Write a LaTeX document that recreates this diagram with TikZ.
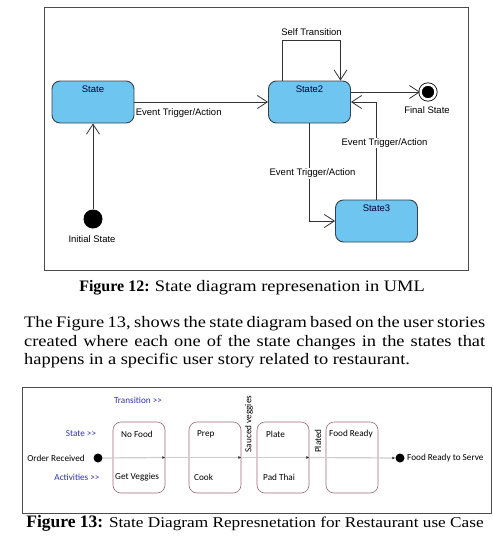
\documentclass[tikz,border=0pt]{standalone}
\usepackage{fontspec}
\setmainfont{Liberation Serif}
\newfontfamily\widefont{Liberation Serif}[FakeStretch=1.15]
\newfontfamily\umlfont{Liberation Sans}
\newfontfamily\calfont{Carlito}
\usetikzlibrary{arrows.meta}
\definecolor{statefill}{RGB}{110,198,240}
\definecolor{stateline}{RGB}{55,65,75}
\definecolor{labelblue}{RGB}{50,50,170}
\definecolor{boxline}{RGB}{160,105,120}
\definecolor{flowline}{RGB}{205,205,205}
\tikzset{
  state/.style={draw=stateline, fill=statefill, rounded corners=8pt, minimum width=82pt, minimum height=42pt, line width=0.9pt},
  trans/.style={draw=black!80, line width=0.8pt, -{Straight Barb[length=10pt,width=13pt]}},
  umltext/.style={font=\umlfont\fontsize{9.5}{11}\selectfont, inner sep=1pt},
  statename/.style={umltext, text=black!80!blue, anchor=north, yshift=-4pt},
  initial/.style={circle, fill=black, minimum size=19pt, inner sep=0pt},
  final/.style={circle, draw=black, fill=black, line width=0.8pt, double=white, double distance=2.5pt, minimum size=15pt, inner sep=0pt},
  phase/.style={draw=boxline, rounded corners=8pt, minimum width=52pt, minimum height=71pt, line width=0.6pt},
  phasetext/.style={font=\calfont\fontsize{9.2}{11}\selectfont, inner sep=0pt},
  bluetext/.style={phasetext, text=labelblue},
  dot/.style={circle, fill=black, minimum size=9pt, inner sep=0pt},
  flow/.style={draw=flowline, line width=1.2pt, -{Latex[length=3pt,width=3pt,color=black!80]}},
  caption/.style={inner sep=0pt, anchor=base},
  frame/.style={draw=black!70, line width=0.8pt}
}
\begin{document}
\begin{tikzpicture}[x=1pt,y=-1pt]
\useasboundingbox (0,0) rectangle (493,552);
% figure 12
\draw[frame] (44,7) rectangle (468,270);
\node[state, label={[statename]north:State}] (s1) at (93,102) {};
\node[state, label={[statename]north:State2}] (s2) at (309.5,102) {};
\node[state, label={[statename]north:State3}] (s3) at (376.5,221) {};
\node[initial] (init) at (93,219) {};
\node[umltext] (initlbl) at (92,239) {Initial State};
\node[final] (fin) at (428,92) {};
\node[umltext] (finlbl) at (427,110) {Final State};
\draw[trans] (init) -- (s1);
\draw[trans] (s1) -- node[umltext, pos=0, below right, yshift=-5pt] (e1) {Event Trigger/Action} (s2);
\draw[trans] (s2.east |- fin) -- (fin);
\draw[trans] ([xshift=-27pt]s2.north) -- ++(0,-40) -| node[umltext, pos=0.25, above, yshift=4pt] (self) {Self Transition} ([xshift=31pt]s2.north);
\draw[trans] (s3.north) |- node[umltext, fill=white, pos=0.29, xshift=8pt] (e2) {Event Trigger/Action} (s2.east);
\draw[trans] (s2.south) |- node[umltext, fill=white, pos=0.255, xshift=3pt] (e3) {Event Trigger/Action} (s3.west);
% captions and text
\node[caption] (cap12) at (252,291.3) {\fontsize{16}{18}\selectfont\textbf{Figure 12:} \widefont State diagram represenation in UML};
\node[inner sep=0pt, text width=461pt, align=justify, anchor=north west, font=\widefont\fontsize{16}{18.3}\selectfont] (para) at (24,316.5)
  {The Figure 13, shows the state diagram based on the user stories created where each one of the state changes in the states that happens in a specific user story related to restaurant.};
% figure 13
\draw[frame] (22,387) rectangle (491,513);
\node[bluetext] (transl) at (138,400) {Transition >>};
\node[bluetext] (statel) at (81,434) {State >>};
\node[bluetext] (actl) at (77,477) {Activities >>};
\node[phasetext] (order) at (56,458) {Order Received};
\node[phase] (b1) at (139,457.5) {};
\node[phase] (b2) at (215,457.5) {};
\node[phase] (b3) at (283,457.5) {};
\node[phase] (b4) at (352,457.5) {};
\node[dot] (start) at (98,458) {};
\node[dot] (stop) at (400,458) {};
\node[phasetext, anchor=west] (serve) at (407,458) {Food Ready to Serve};
\draw[flow] (start) -- (b1.east);
\draw[flow] (b1.east) -- (b2.east);
\draw[flow] (b2.east) -- (b3.east);
\draw[flow] (b3.east) -- (stop);
\node[phasetext, anchor=west] (nofood) at (121,434) {No Food};
\node[phasetext, anchor=west] (veggies) at (115,477) {Get Veggies};
\node[phasetext, anchor=west] (prep) at (197,434) {Prep};
\node[phasetext, anchor=west] (cook) at (194,477) {Cook};
\node[phasetext, anchor=west] (plate) at (266,434) {Plate};
\node[phasetext, anchor=west] (padthai) at (263,477) {Pad Thai};
\node[phasetext, anchor=west] (ready) at (329,434) {Food Ready};
\node[phasetext, rotate=90] (sauced) at (249,424) {Sauced veggies};
\node[phasetext, rotate=90] (plated) at (318,441) {Plated};
\node[caption] (cap13) at (255,527) {\fontsize{17.5}{20}\selectfont\textbf{Figure 13:} \widefont\fontsize{15}{18}\selectfont State Diagram Represnetation for Restaurant use Case};
\end{tikzpicture}
\end{document}
